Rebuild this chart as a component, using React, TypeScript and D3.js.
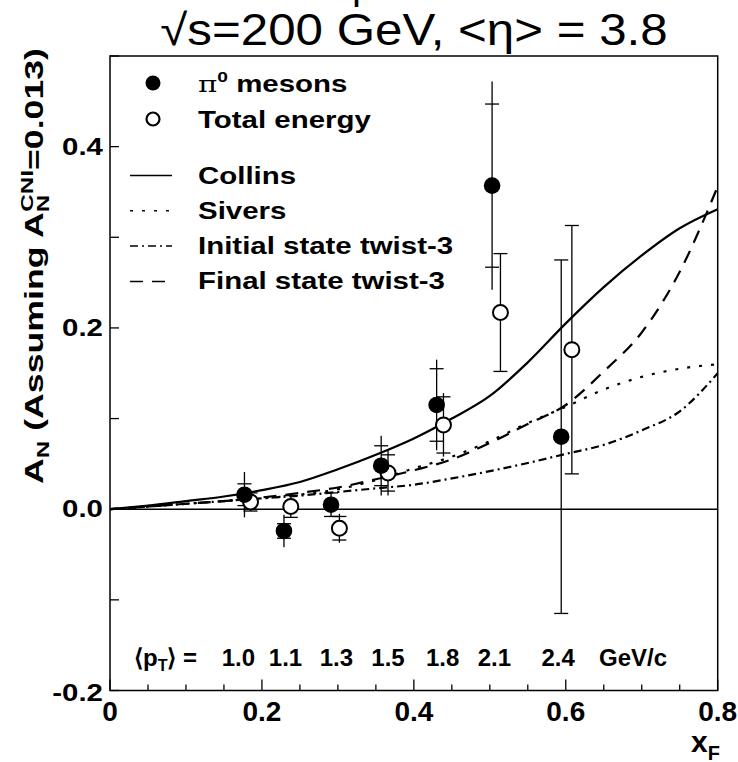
import React from "react";
import * as d3 from "d3";

const W = 738;
const H = 762;

// pi0 mesons (filled)
const pi0X = [0.177, 0.229, 0.291, 0.357, 0.43, 0.503, 0.594];
const pi0A = [0.016, -0.024, 0.005, 0.048, 0.115, 0.357, 0.08];
const pi0Stat = [0.025, 0.018, 0.012, 0.033, 0.05, 0.115, 0.195];
const pi0Sys = [0.012, 0.008, 0.013, 0.022, 0.04, 0.09, 0.195];

// Total energy (open)
const totX = [0.185, 0.238, 0.302, 0.366, 0.439, 0.514, 0.608];
const totA = [0.008, 0.003, -0.021, 0.04, 0.093, 0.217, 0.176];
const totStat = [0.01, 0.01, 0.016, 0.025, 0.035, 0.065, 0.137];
const totSys = [0.01, 0.012, 0.013, 0.02, 0.031, 0.065, 0.137];

// theory curves
const curveX = [0, 0.05, 0.1, 0.15, 0.2, 0.25, 0.3, 0.35, 0.4, 0.45, 0.5, 0.55, 0.6, 0.65, 0.7, 0.75, 0.8];
const collins = [0, 0.004, 0.009, 0.014, 0.021, 0.03, 0.044, 0.06, 0.078, 0.1, 0.125, 0.162, 0.205, 0.245, 0.28, 0.31, 0.331];
const sivers = [0, 0.003, 0.006, 0.009, 0.012, 0.016, 0.022, 0.032, 0.045, 0.058, 0.075, 0.095, 0.113, 0.132, 0.146, 0.155, 0.16];
const initial3 = [0, 0.003, 0.006, 0.009, 0.012, 0.015, 0.019, 0.023, 0.027, 0.034, 0.042, 0.051, 0.061, 0.071, 0.087, 0.108, 0.15];
const final3 = [0, 0.003, 0.006, 0.009, 0.013, 0.018, 0.024, 0.033, 0.043, 0.055, 0.073, 0.094, 0.115, 0.152, 0.195, 0.262, 0.356];

// <pT> annotation
const ptLabels = ["1.0", "1.1", "1.3", "1.5", "1.8", "2.1", "2.4"];
const ptXF = [0.169, 0.231, 0.298, 0.366, 0.438, 0.506, 0.59];

const xMajor = [0, 0.2, 0.4, 0.6, 0.8];
const yMajor = [-0.2, 0, 0.2, 0.4];

const legendItems = ["Collins", "Sivers", "Initial state twist-3", "Final state twist-3"];
const legendDash = ["none", "3,9", "8,4,2,4", "13,9"];

export default function App() {
  const x = d3.scaleLinear().domain([0, 0.8]).range([110, 717.7]);
  const y = d3.scaleLinear().domain([-0.2, 0.5]).range([690.5, 56]);

  const line = d3
    .line<[number, number]>()
    .x((d) => x(d[0]))
    .y((d) => y(d[1]))
    .curve(d3.curveMonotoneX);

  const curves = [collins, sivers, initial3, final3];

  const xMinor = d3.range(0, 0.8001, 0.05);
  const yTicks = d3.range(-0.2, 0.5001, 0.1);

  const font = "Liberation Sans, Arial, Helvetica, sans-serif";
  const sx = 1.28;

  const errBars = (xs: number[], as: number[], st: number[], sy: number[], key: string) =>
    xs.map((xv, i) => {
      const cx = x(xv);
      const lo = Math.min(as[i] - st[i], as[i] - sy[i]);
      const hi = Math.max(as[i] + st[i], as[i] + sy[i]);
      return (
        <g key={key + i} stroke="#000" strokeWidth={1.3}>
          <line x1={cx} x2={cx} y1={y(lo)} y2={y(hi)} />
          <line x1={cx - 7} x2={cx + 7} y1={y(as[i] + sy[i])} y2={y(as[i] + sy[i])} />
          <line x1={cx - 7} x2={cx + 7} y1={y(as[i] - sy[i])} y2={y(as[i] - sy[i])} />
        </g>
      );
    });

  return (
    <svg width={W} height={H} style={{ position: "absolute", left: 0, top: 0, background: "#fff" }} fontFamily={font}>
      <rect x={0} y={0} width={W} height={H} fill="#fff" />
      {/* cut-off first title line (only its descender shows) */}
      <text x={352} y={-1} fontSize={40} fill="#000">
        p
      </text>
      {/* title */}
      <text transform={`translate(414,45) scale(1.12,1)`} textAnchor="middle" fontSize={44} fill="#000">
        √s=200 GeV, &lt;η&gt; = 3.8
      </text>

      {/* frame */}
      <rect x={110} y={56} width={717.7 - 110} height={690.5 - 56} fill="none" stroke="#000" strokeWidth={1.5} />

      {/* x ticks */}
      {xMinor.map((t, i) => {
        const major = Math.abs(t / 0.2 - Math.round(t / 0.2)) < 1e-6;
        return (
          <line key={"xt" + i} x1={x(t)} x2={x(t)} y1={690.5} y2={690.5 - (major ? 11 : 6)} stroke="#000" strokeWidth={1.3} />
        );
      })}
      {xMajor.map((t, i) => (
        <text key={"xl" + i} x={x(t)} y={721} textAnchor="middle" fontSize={28} fontWeight="bold">
          {t === 0 ? "0" : t.toFixed(1)}
        </text>
      ))}

      {/* y ticks */}
      {yTicks.map((t, i) => (
        <line key={"yt" + i} x1={110} x2={119} y1={y(t)} y2={y(t)} stroke="#000" strokeWidth={1.3} />
      ))}
      {yMajor.map((t, i) => (
        <text
          key={"yl" + i}
          transform={`translate(103,${y(t) + (t === -0.2 ? 10 : 8)}) scale(${sx},1)`}
          textAnchor="end"
          fontSize={23}
          fontWeight="bold"
        >
          {t.toFixed(1)}
        </text>
      ))}

      {/* axis titles */}
      <text transform="translate(43,484) rotate(-90)" fontSize={25} fontWeight="bold" textLength={436} lengthAdjust="spacingAndGlyphs">
        A<tspan fontSize={17} dy={6}>N</tspan>
        <tspan dy={-6}> (Assuming A</tspan>
        <tspan fontSize={17} dy={6}>N</tspan>
        <tspan fontSize={17} dx={-12} dy={-16}>CNI</tspan>
        <tspan dy={10}>=0.013)</tspan>
      </text>
      <text x={720} y={752} textAnchor="end" fontSize={30} fontWeight="bold">
        x<tspan fontSize={20} dy={8}>F</tspan>
      </text>

      {/* zero line */}
      <line x1={110} x2={717.7} y1={y(0)} y2={y(0)} stroke="#000" strokeWidth={1.5} />

      {/* theory curves */}
      {curves.map((c, k) => (
        <path
          key={"c" + k}
          d={line(curveX.map((xv, i) => [xv, c[i]] as [number, number])) || ""}
          fill="none"
          stroke="#000"
          strokeWidth={2.2}
          strokeDasharray={legendDash[k]}
        />
      ))}

      {/* error bars */}
      {errBars(totX, totA, totStat, totSys, "te")}
      {errBars(pi0X, pi0A, pi0Stat, pi0Sys, "pe")}

      {/* markers */}
      {totX.map((xv, i) => (
        <circle key={"to" + i} cx={x(xv)} cy={y(totA[i])} r={7.5} fill="#fff" stroke="#000" strokeWidth={2} />
      ))}
      {pi0X.map((xv, i) => (
        <circle key={"pm" + i} cx={x(xv)} cy={y(pi0A[i])} r={8.3} fill="#000" />
      ))}

      {/* legend */}
      <circle cx={153} cy={83} r={7.5} fill="#000" />
      <text transform={`translate(198,92) scale(${sx},1)`} fontSize={23} fontWeight="bold">
        <tspan fontFamily="DejaVu Serif, serif" fontWeight="normal">π</tspan>
        <tspan fontSize={15} dy={-10}>0</tspan>
        <tspan dy={10}> mesons</tspan>
      </text>
      <circle cx={153} cy={119} r={6.5} fill="#fff" stroke="#000" strokeWidth={2.2} />
      <text transform={`translate(198,128) scale(${sx},1)`} fontSize={23} fontWeight="bold">
        Total energy
      </text>
      {legendItems.map((lab, i) => {
        const yy = 183.5 + i * 35.3;
        return (
          <g key={"lg" + i}>
            <line x1={130} x2={172} y1={yy - 8} y2={yy - 8} stroke="#000" strokeWidth={1.5} strokeDasharray={legendDash[i]} />
            <text transform={`translate(198,${yy}) scale(${sx},1)`} fontSize={23} fontWeight="bold">
              {lab}
            </text>
          </g>
        );
      })}

      {/* <pT> annotation */}
      <text transform={`translate(134,666)`} fontSize={24} fontWeight="bold">
        ⟨p<tspan fontSize={16} dy={5}>T</tspan>
        <tspan dy={-5}>⟩ =</tspan>
      </text>
      {ptLabels.map((l, i) => (
        <text key={"pt" + i} x={x(ptXF[i])} y={666} textAnchor="middle" fontSize={24} fontWeight="bold">
          {l}
        </text>
      ))}
      <text x={599} y={666} fontSize={24} fontWeight="bold">
        GeV/c
      </text>
    </svg>
  );
}
